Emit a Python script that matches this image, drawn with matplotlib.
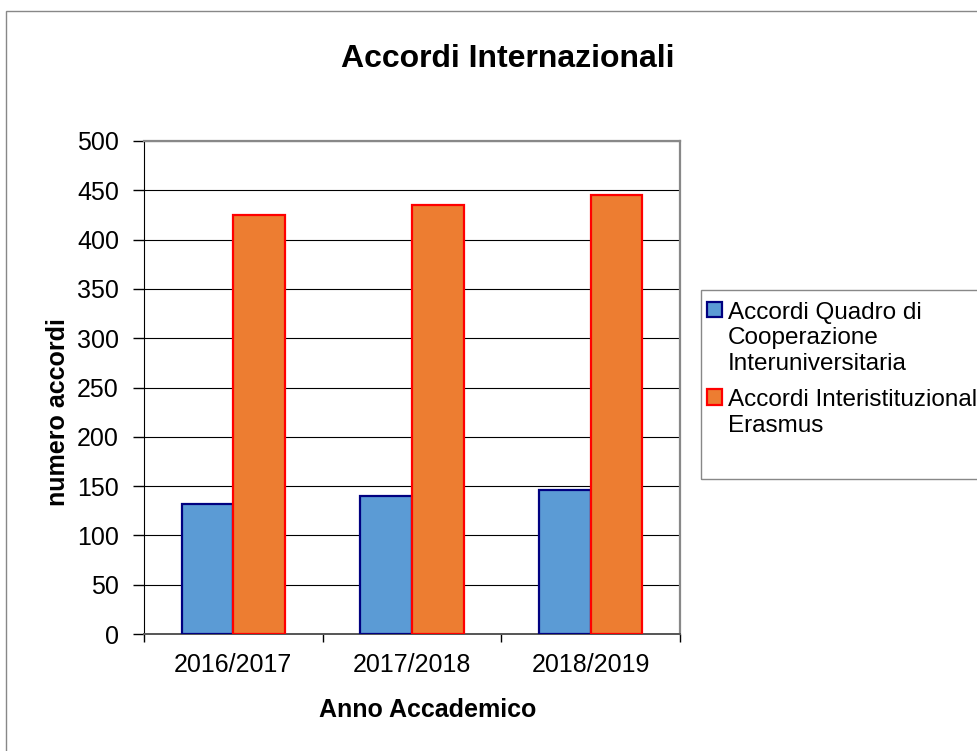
import numpy as np
import matplotlib
matplotlib.use("Agg")
import matplotlib.pyplot as plt
from matplotlib.patches import Rectangle, Patch

plt.rcParams['font.family'] = ['Liberation Sans', 'DejaVu Sans']

# data
anni = ['2016/2017', '2017/2018', '2018/2019']
quadro = [132, 140, 146]
erasmus = [425, 435, 445]
serie = ['Accordi Quadro di\nCooperazione\nInteruniversitaria',
         'Accordi Interistituzionali\nErasmus']

blu, blu_bordo = '#5B9BD5', '#000080'
arancio, arancio_bordo = '#ED7D31', '#FF0000'

W, H = 978, 751
fig = plt.figure(figsize=(W / 100, H / 100), dpi=100)

# outer chart frame (runs off the right/bottom edge like the reference)
fig.patches.append(Rectangle((6 / W, -0.02), 1.2, 1 - 11 / H + 0.02,
                             transform=fig.transFigure, fill=False,
                             edgecolor='#888888', lw=1.0, zorder=0))

ax = fig.add_axes([144 / W, 1 - 634 / H, (680 - 144) / W, (634 - 141) / H])

x = np.arange(len(anni))
w = 0.29
ax.bar(x - w / 2, quadro, w, color=blu, edgecolor=blu_bordo, linewidth=1.6,
       label=serie[0], zorder=3)
ax.bar(x + w / 2, erasmus, w, color=arancio, edgecolor=arancio_bordo,
       linewidth=1.6, label=serie[1], zorder=3)

ax.set_xlim(-0.5, len(anni) - 0.5)
ax.set_ylim(0, 500)
ax.set_yticks(np.arange(0, 501, 50))
ax.yaxis.grid(True, color='black', lw=0.8)
ax.set_axisbelow(True)

ax.set_xticks(x)
ax.set_xticklabels(anni)
ax.set_xticks(np.arange(-0.5, len(anni)), minor=True)
ax.tick_params(axis='x', which='major', length=0, pad=14, labelsize=18)
ax.tick_params(axis='x', which='minor', length=6, width=1, direction='out')
ax.tick_params(axis='y', length=8, width=1, direction='out', pad=10,
               labelsize=18)

for s in ['top', 'right']:
    ax.spines[s].set_color('#888888')
    ax.spines[s].set_linewidth(1.6)
ax.spines['left'].set_color('black')
ax.spines['bottom'].set_color('#555555')
ax.spines['bottom'].set_linewidth(1.4)

ax.set_ylabel('numero accordi', fontsize=18, fontweight='bold')
ax.yaxis.set_label_coords(-0.138, 0.45)
ax.set_xlabel('Anno Accademico', fontsize=18, fontweight='bold')
ax.xaxis.set_label_coords(0.529, -0.13)

fig.text(508 / W, 1 - 67 / H, 'Accordi Internazionali', ha='center',
         va='baseline', fontsize=23, fontweight='bold')

# legend box, fixed size like the Excel one
fig.patches.append(Rectangle((701 / W, 1 - 479 / H), 0.5, (479 - 290) / H,
                             transform=fig.transFigure, fill=False,
                             edgecolor='#888888', lw=1.0))
handles = [Patch(facecolor=blu, edgecolor=blu_bordo, lw=1.6),
           Patch(facecolor=arancio, edgecolor=arancio_bordo, lw=1.6)]
leg = ax.legend(handles, serie, loc='upper left',
                bbox_to_anchor=(707 / W, 1 - 302 / H),
                bbox_transform=fig.transFigure, frameon=False, fontsize=17.5,
                borderpad=0, handlelength=0.6, handleheight=0.6,
                handletextpad=0.25, labelspacing=0.6, borderaxespad=0)
# marker next to the first line of each label, as Excel does
for col in leg._legend_handle_box.get_children():
    for row in col.get_children():
        row.align = 'top'

fig.savefig('out.png', dpi=100)
